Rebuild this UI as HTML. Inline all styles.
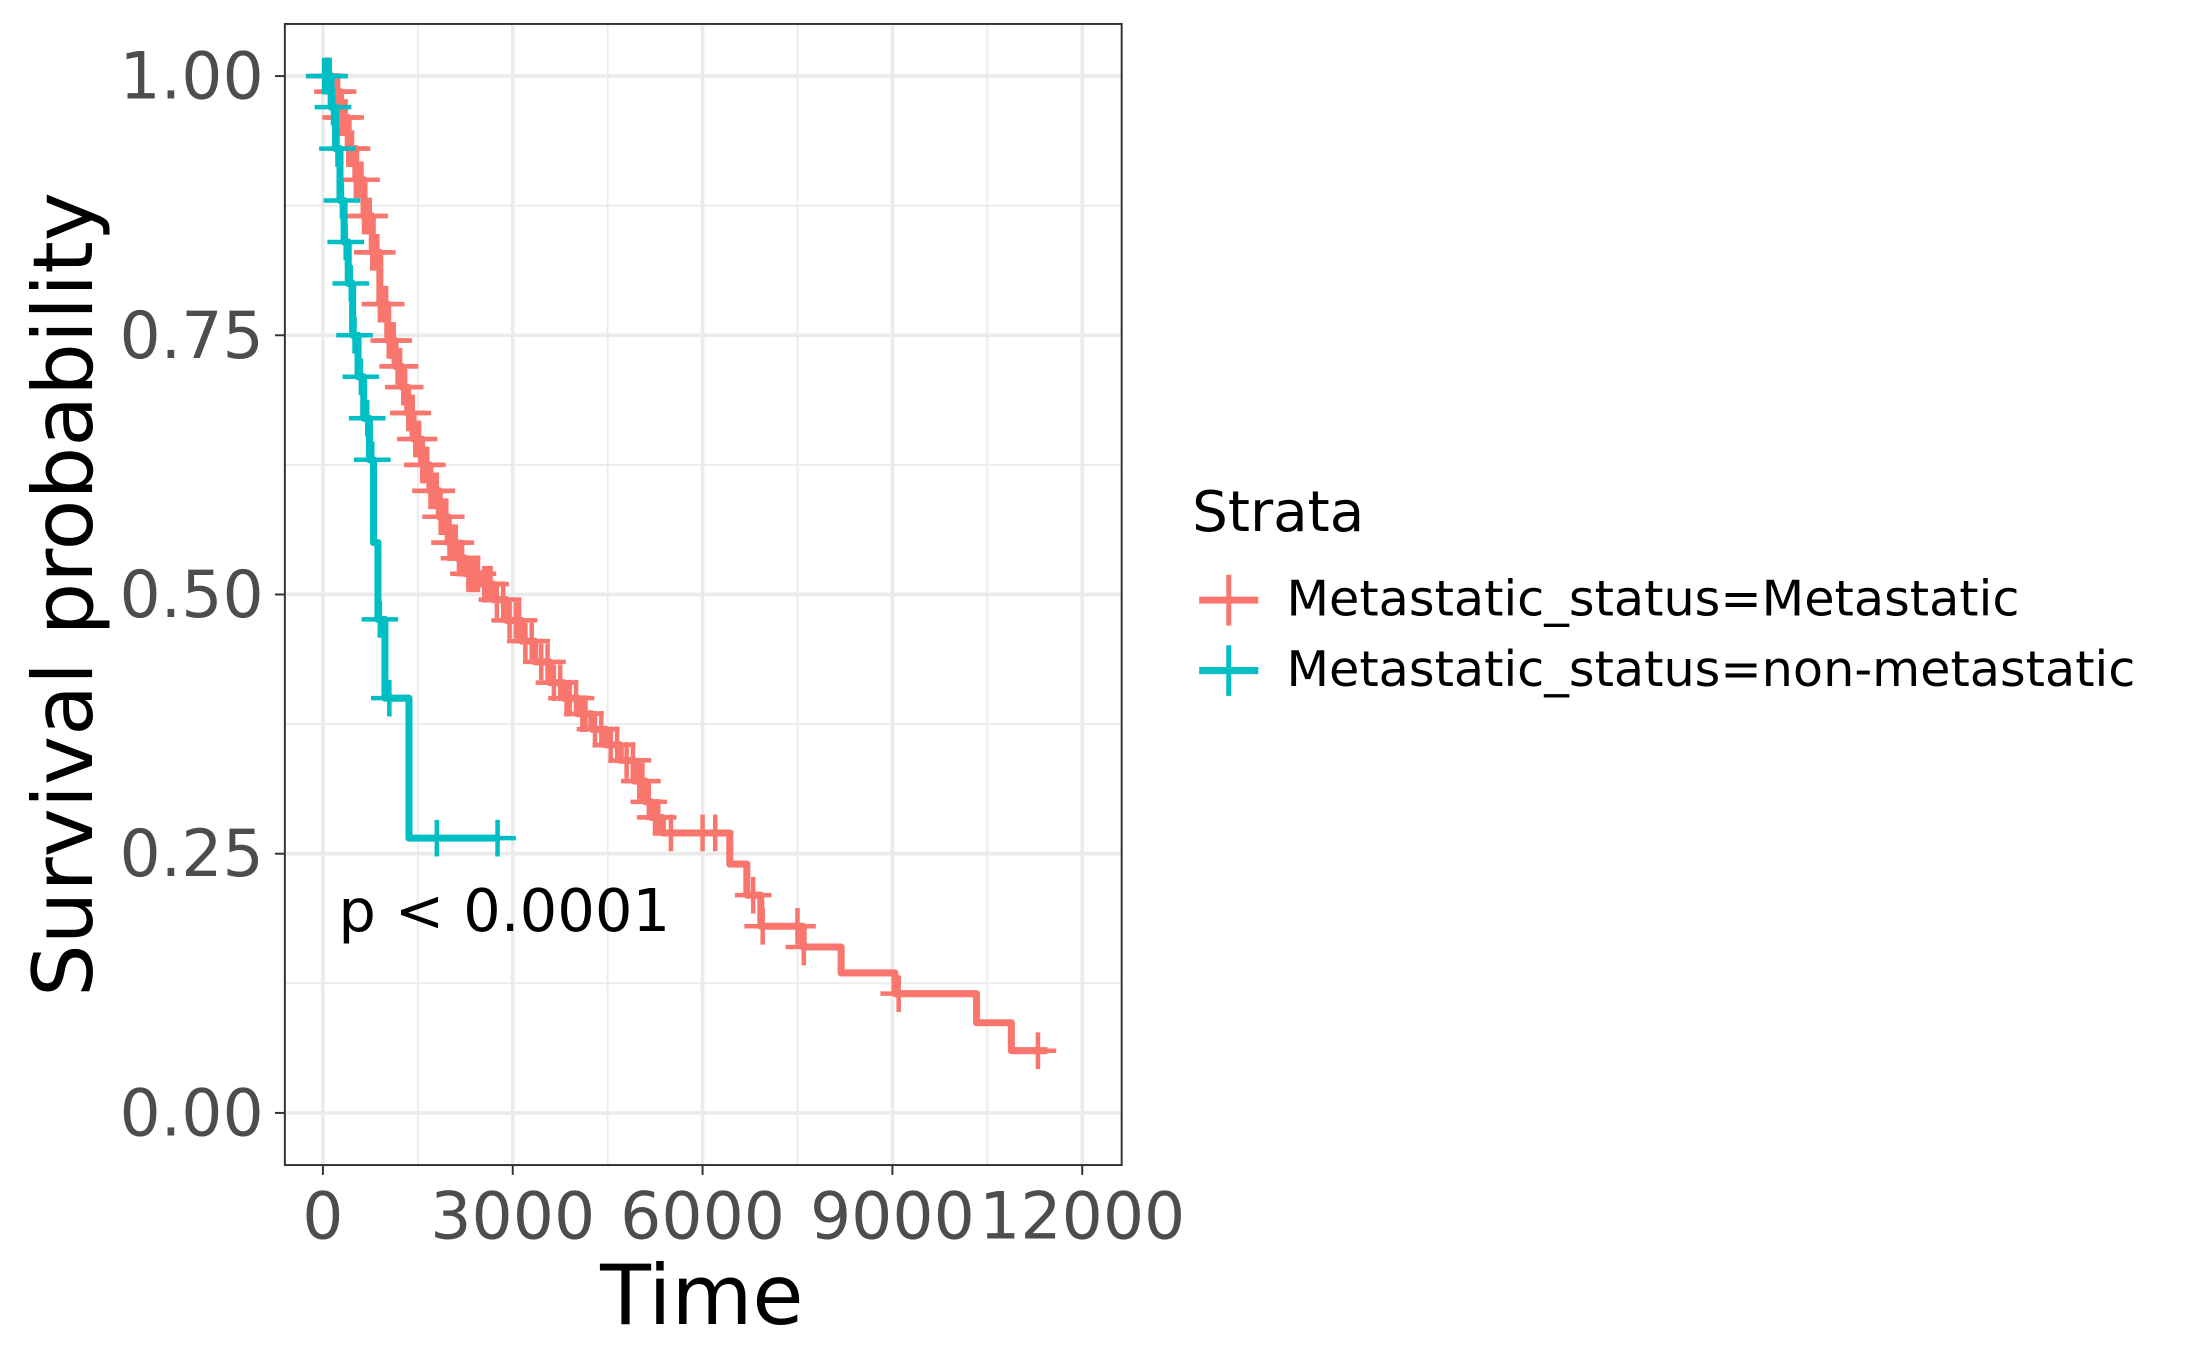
<!DOCTYPE html>
<html><head><meta charset="utf-8"><style>
html,body{margin:0;padding:0;background:#fff;}
svg{display:block;font-family:"DejaVu Sans","Liberation Sans",sans-serif;}
</style></head><body>
<svg id="chart" width="2187" height="1351" viewBox="0 0 1552 959" xmlns="http://www.w3.org/2000/svg">
<rect x="0" y="0" width="1552" height="959" fill="#fff"/>
<g id="grid"></g>
<g id="curves"></g>
<rect x="202" y="17" width="594" height="810" fill="none" stroke="#333" stroke-width="1.4"/>
<g id="axes"></g>
<text x="240" y="661" font-size="42" fill="#000">p &lt; 0.0001</text>
<text x="498" y="940" font-size="59" text-anchor="middle" fill="#000">Time</text>
<text transform="translate(65,422) rotate(-90)" font-size="59" text-anchor="middle" fill="#000">Survival probability</text>
<g>
<text x="846" y="377" font-size="40" fill="#000">Strata</text>
<g>
<line x1="851" y1="426" x2="893" y2="426" stroke="#F8766D" stroke-width="5"/>
<line x1="872" y1="408" x2="872" y2="444" stroke="#F8766D" stroke-width="3.5"/>
<text x="913" y="437" font-size="35" fill="#000">Metastatic_status=Metastatic</text>
</g>
<g>
<line x1="851" y1="476" x2="893" y2="476" stroke="#00BFC4" stroke-width="5"/>
<line x1="872" y1="458" x2="872" y2="494" stroke="#00BFC4" stroke-width="3.5"/>
<text x="913" y="487" font-size="35" fill="#000">Metastatic_status=non-metastatic</text>
</g>
</g>
</svg>
<script>
const xTicks = [0, 3000, 6000, 9000, 12000];
const yTicks = [0, 0.25, 0.5, 0.75, 1.0];
const yTickLabels = ["0.00", "0.25", "0.50", "0.75", "1.00"];
// Metastatic: step times and survival after each step
const metTimes = [0, 150, 280, 400, 520, 650, 780, 900, 1025, 1140, 1250, 1340, 1425, 1560, 1690, 1840, 1980, 2120, 2250, 2500, 2690, 2900, 3140, 3350, 3580, 3800, 4030, 4250, 4470, 4700, 4920, 5100, 5190, 5365, 6430, 6700, 6920, 7590, 8190, 9040, 10330, 10880];
const metSurv = [1.0, 0.985, 0.96, 0.93, 0.90, 0.865, 0.83, 0.78, 0.745, 0.72, 0.70, 0.675, 0.65, 0.625, 0.60, 0.575, 0.55, 0.535, 0.52, 0.51, 0.495, 0.475, 0.455, 0.435, 0.415, 0.40, 0.385, 0.37, 0.355, 0.34, 0.32, 0.30, 0.285, 0.27, 0.24, 0.21, 0.18, 0.16, 0.135, 0.115, 0.087, 0.06];
const metEnd = 11450;
const metCensor = [30, 60, 80, 110, 150, 180, 200, 240, 280, 320, 360, 400, 430, 460, 520, 560, 610, 650, 700, 740, 780, 820, 860, 900, 950, 1000, 1040, 1080, 1120, 1180, 1220, 1270, 1300, 1350, 1380, 1420, 1460, 1520, 1570, 1600, 1650, 1700, 1750, 1800, 1860, 1900, 1950, 2000, 2050, 2100, 2150, 2200, 2300, 2350, 2400, 2450, 2550, 2600, 2650, 2750, 2850, 2950, 3050, 3100, 3200, 3300, 3450, 3550, 3650, 3750, 3850, 3900, 4000, 4100, 4150, 4300, 4400, 4550, 4650, 4800, 4900, 5000, 5050, 5150, 5250, 5300, 5500, 6000, 6200, 6800, 6950, 7500, 7600, 9100, 11300];
// Non-metastatic
const nonTimes = [0, 130, 200, 270, 335, 400, 470, 555, 645, 735, 800, 870, 980, 1360];
const nonSurv = [1.0, 0.97, 0.93, 0.88, 0.84, 0.80, 0.75, 0.71, 0.67, 0.63, 0.55, 0.476, 0.40, 0.265];
const nonEnd = 2800;
const nonCensor = [20, 60, 100, 160, 230, 300, 360, 440, 500, 600, 700, 780, 900, 1050, 1800, 2760];

const X0 = 229, X1 = 768, Y0 = 790, Y1 = 54;
function sx(t){ return X0 + (t/12000)*(X1-X0); }
function sy(s){ return Y0 - s*(Y0-Y1); }
const NS = "http://www.w3.org/2000/svg";
function mk(tag, attrs, parent){ const e=document.createElementNS(NS,tag); for(const k in attrs) e.setAttribute(k,attrs[k]); parent.appendChild(e); return e; }

const grid = document.getElementById('grid');
for (let i=0;i<yTicks.length-1;i++){
  const v=(yTicks[i]+yTicks[i+1])/2;
  const l=mk('line',{x1:202,x2:796,y1:sy(v),y2:sy(v),stroke:'#ebebeb','stroke-width':1.3},grid);
  
  
}
for (let i=0;i<xTicks.length-1;i++){
  const v=(xTicks[i]+xTicks[i+1])/2;
  const l=mk('line',{x1:sx(v),x2:sx(v),y1:17,y2:827,stroke:'#ebebeb','stroke-width':1.3},grid);
  
  
}
yTicks.forEach(v=>{
  const l=mk('line',{x1:202,x2:796,y1:sy(v),y2:sy(v),stroke:'#ebebeb','stroke-width':2.6},grid);
  
  
});
xTicks.forEach(v=>{
  const l=mk('line',{x1:sx(v),x2:sx(v),y1:17,y2:827,stroke:'#ebebeb','stroke-width':2.6},grid);
  
  
});

const axes = document.getElementById('axes');
yTicks.forEach((v,i)=>{
  const t=mk('line',{x1:195,x2:202,y1:sy(v),y2:sy(v),stroke:'#333','stroke-width':1.4},axes);
  
  
  const tx=mk('text',{x:187,y:sy(v)+16,'font-size':46,'text-anchor':'end',fill:'#4d4d4d'},axes);
  tx.textContent=yTickLabels[i];
  
  
});
xTicks.forEach(v=>{
  const t=mk('line',{x1:sx(v),x2:sx(v),y1:827,y2:834,stroke:'#333','stroke-width':1.4},axes);
  
  
  const tx=mk('text',{x:sx(v),y:879,'font-size':46,'text-anchor':'middle',fill:'#4d4d4d'},axes);
  tx.textContent=String(v);
  
  
});

const curves = document.getElementById('curves');
function survAt(times, surv, t){ let s=surv[0]; for(let i=0;i<times.length;i++){ if(times[i]<=t) s=surv[i]; } return s; }
function drawCurve(times, surv, end, censor, color, name){
  let d='M'+sx(times[0])+','+sy(surv[0]);
  for(let i=1;i<times.length;i++){ d+=' H'+sx(times[i])+' V'+sy(surv[i]); }
  d+=' H'+sx(end);
  const p=mk('path',{d:d,fill:'none',stroke:color,'stroke-width':5,'stroke-linejoin':'round'},curves);
  
  
  censor.forEach(t=>{
    const x=sx(t), y=sy(survAt(times,surv,t));
    const g=mk('path',{d:'M'+(x-13)+','+y+' H'+(x+13)+' M'+x+','+(y-13)+' V'+(y+13),stroke:color,'stroke-width':3.2,fill:'none'},curves);
    
    
  });
}
drawCurve(metTimes, metSurv, metEnd, metCensor, '#F8766D', 'metastatic');
drawCurve(nonTimes, nonSurv, nonEnd, nonCensor, '#00BFC4', 'non-metastatic');
</script>
</body></html>
